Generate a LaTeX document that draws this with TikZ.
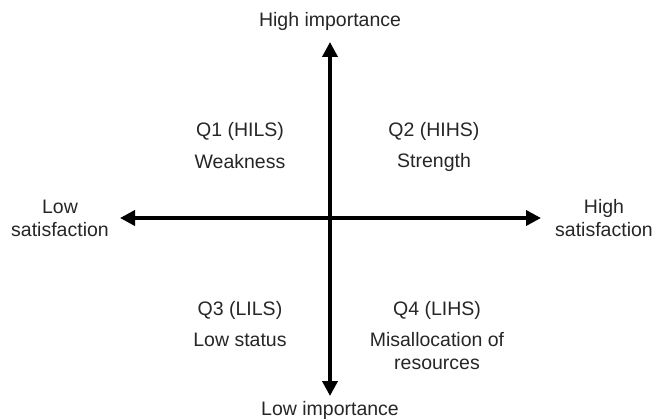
\documentclass[tikz,border=0pt]{standalone}
\usepackage{fontspec}
\setmainfont{Liberation Sans}
\usetikzlibrary{arrows.meta}
\begin{document}
\begin{tikzpicture}[x=1pt,y=-1pt,
  axis/.style={line width=3.6pt,-{Triangle[width=15pt,length=15pt]}},
  lbl/.style={font=\fontsize{19.5}{23}\selectfont,align=center,inner sep=0pt,text=black!85}]
\useasboundingbox (0,0) rectangle (654,420);
\coordinate (c) at (330,218);
\coordinate (top) at (330,42);
\coordinate (bot) at (330,396);
\coordinate (lft) at (120,218);
\coordinate (rgt) at (541,218);
\draw[axis] (c) -- (top);
\draw[axis] (c) -- (bot);
\draw[axis] (c) -- (lft);
\draw[axis] (c) -- (rgt);
\node[lbl] (hi) at (330,21) {High importance};
\node[lbl] (lo) at (330,410) {Low importance};
\node[lbl] (ls) at (60,218) {Low\\satisfaction};
\node[lbl] (hs) at (604,218) {High\\satisfaction};
\node[lbl] (q1) at (240,131) {Q1 (HILS)};
\node[lbl] (w) at (240,162) {Weakness};
\node[lbl] (q2) at (434,131) {Q2 (HIHS)};
\node[lbl] (s) at (434,162) {Strength};
\node[lbl] (q3) at (240,310) {Q3 (LILS)};
\node[lbl] (lst) at (240,340) {Low status};
\node[lbl] (q4) at (437,310) {Q4 (LIHS)};
\node[lbl] (m) at (437,351) {Misallocation of\\resources};
\end{tikzpicture}
\end{document}
